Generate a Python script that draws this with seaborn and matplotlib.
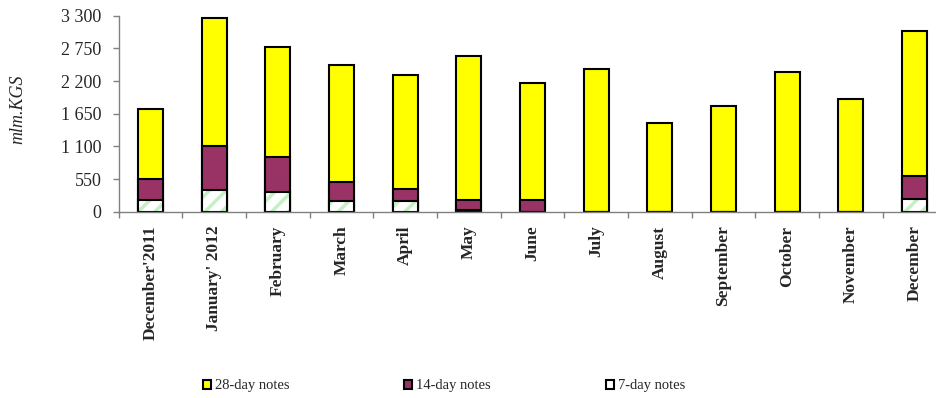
import numpy as np
import pandas as pd
import matplotlib
matplotlib.use("Agg")
import matplotlib.pyplot as plt
import seaborn as sns
from matplotlib.patches import Patch
from matplotlib.ticker import FixedLocator, FuncFormatter

months = ["December'2011", "January' 2012", "February", "March", "April", "May",
          "June", "July", "August", "September", "October", "November", "December"]
notes_7 = [197, 365, 337, 180, 185, 30, 0, 0, 0, 0, 0, 0, 214]
notes_14 = [353, 741, 589, 325, 197, 167, 197, 0, 0, 0, 0, 0, 392]
notes_28 = [1179, 2161, 1842, 1960, 1925, 2420, 1970, 2403, 1494, 1775, 2358, 1903, 2442]
legend_labels = ["28-day notes", "14-day notes", "7-day notes"]
yticks = [0, 550, 1100, 1650, 2200, 2750, 3300]

df = pd.DataFrame({"month": months, "n7": notes_7, "n14": notes_14, "n28": notes_28})
df["c14"] = df["n7"] + df["n14"]
df["total"] = df["c14"] + df["n28"]

sns.set_theme(style="white")
plt.rcParams["font.family"] = ["Liberation Serif", "DejaVu Serif"]
plt.rcParams["hatch.linewidth"] = 2.5

W, H = 937, 398
fig = plt.figure(figsize=(W / 100, H / 100), dpi=100)
left_px, right_px, top_px, bot_px = 118.7, 946.4, 15.7, 211.7
ax = fig.add_axes([left_px / W, 1 - bot_px / H, (right_px - left_px) / W, (bot_px - top_px) / H])

yellow = "#FFFF00"
maroon = "#993366"
bw = 0.39
lw = 1.5

sns.barplot(data=df, x="month", y="total", color=yellow, saturation=1, width=bw,
            edgecolor="black", linewidth=lw, ax=ax, errorbar=None)
sns.barplot(data=df, x="month", y="c14", color=maroon, saturation=1, width=bw,
            edgecolor="black", linewidth=lw, ax=ax, errorbar=None)
sns.barplot(data=df, x="month", y="n7", color="white", saturation=1, width=bw,
            edgecolor="#c4f0c4", linewidth=0, hatch="//", ax=ax, errorbar=None)
sns.barplot(data=df, x="month", y="n7", color="white", saturation=1, width=bw,
            edgecolor="black", linewidth=lw, ax=ax, errorbar=None)
for p in ax.containers[-1]:
    p.set_facecolor("none")

ax.set_ylim(0, 3300)
ax.set_xlim(-0.5, len(months) - 0.5)
ax.set_yticks(yticks)
ax.yaxis.set_major_formatter(FuncFormatter(lambda v, _: f"{int(v):,}".replace(",", " ")))
ax.set_xlabel("")
ax.set_ylabel("mlm.KGS", fontstyle="italic", fontsize=13)
ax.yaxis.set_label_coords((26 - left_px) / (right_px - left_px), (bot_px - 109) / (bot_px - top_px))

ax.set_xticks(range(len(months)))
ax.set_xticklabels(months, rotation=90, fontweight="bold", fontsize=12.5, va="top")
ax.xaxis.set_minor_locator(FixedLocator(np.arange(-0.5, len(months), 1)))
ax.tick_params(axis="x", which="major", length=0, pad=10)
ax.tick_params(axis="x", which="minor", bottom=True, length=4, width=1, color="#808080", direction="out")
ax.tick_params(axis="y", which="major", left=True, length=4.3, width=1, color="#808080",
               direction="out", labelsize=13, pad=8)

sns.despine(ax=ax, top=True, right=True)
for s in ["left", "bottom"]:
    ax.spines[s].set_color("#808080")
    ax.spines[s].set_linewidth(1.0)
ax.grid(False)

handles = [Patch(facecolor=yellow, edgecolor="black", linewidth=1.5),
           Patch(facecolor=maroon, edgecolor="black", linewidth=1.5),
           Patch(facecolor="white", edgecolor="black", linewidth=1.5)]
fig.legend(handles, legend_labels, loc="center left", bbox_to_anchor=(203 / W, 1 - 386 / H),
           ncol=3, frameon=False, fontsize=10.5, handlelength=0.55, handleheight=0.55,
           handletextpad=0.25, columnspacing=7.9, borderpad=0, borderaxespad=0)

fig.savefig("out.png", dpi=100)
